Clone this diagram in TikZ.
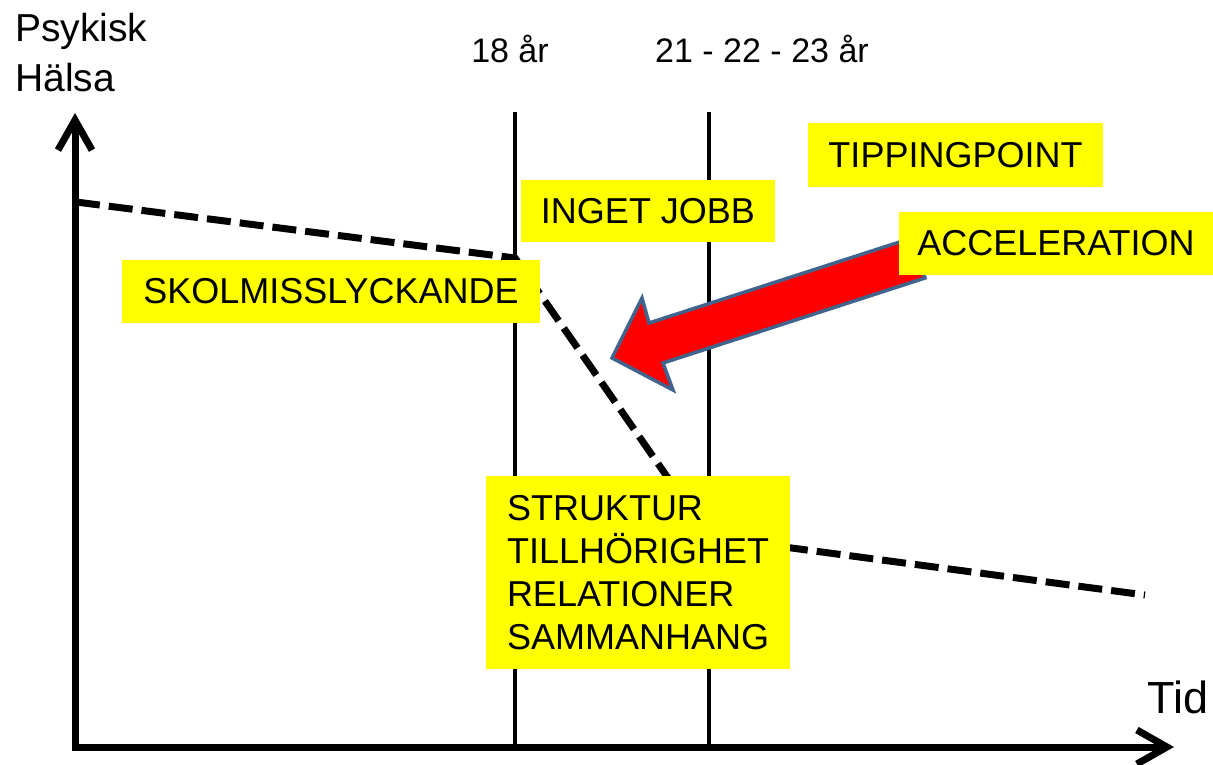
\documentclass[tikz,border=0pt]{standalone}
\usepackage{fontspec}
\setmainfont{Liberation Sans}
\usetikzlibrary{arrows.meta}
\definecolor{boxyellow}{RGB}{255,255,0}
\definecolor{arrowred}{RGB}{255,0,0}
\definecolor{arrowedge}{RGB}{65,100,143}

\begin{document}
\begin{tikzpicture}[x=1pt,y=-1pt,
  yellow box/.style={fill=boxyellow,inner sep=0pt,font=\fontsize{36}{43}\selectfont},
  age label/.style={anchor=base,inner sep=0pt,font=\fontsize{34}{40}\selectfont},
  axis line/.style={line width=7pt,line join=miter,
    {Straight Barb[length=30pt,width=34pt]}-{Straight Barb[length=30pt,width=34pt]}},
  year line/.style={line width=4.5pt},
  health line/.style={line width=7pt,dash pattern=on 24pt off 9pt}]
  \useasboundingbox (0,0) rectangle (1213,764);

  \coordinate (ytip) at (75,113);
  \coordinate (origin) at (75,747);
  \coordinate (xtip) at (1174,747);
  \coordinate (top18) at (515,112);
  \coordinate (bot18) at (515,747);
  \coordinate (top21) at (709,112);
  \coordinate (bot21) at (709,747);
  \coordinate (h0) at (76,202);
  \coordinate (h1) at (515,258);
  \coordinate (h2) at (709,537);
  \coordinate (h3) at (1145,595);

  \node[anchor=north west,inner sep=0pt,align=left,font=\fontsize{39}{50}\selectfont] (ylabel) at (15,13) {Psykisk\\Hälsa};
  \node[age label] (age18) at (510,62) {18 år};
  \node[age label] (age21) at (762,62) {21 - 22 - 23 år};
  \node[anchor=base west,inner sep=0pt,font=\fontsize{45}{54}\selectfont] (xlabel) at (1147,713) {Tid};

  \draw[year line] (top18) -- (bot18);
  \draw[year line] (top21) -- (bot21);
  \draw[health line] (h0) -- (h1) -- (h2) -- (h3);
  \draw[axis line] (ytip) -- (origin) -- (xtip);

  \draw[arrowedge,fill=arrowred,line width=3.5pt,line join=miter]
    (612,358) -- (642,298) -- (649,323) -- (912,238) -- (925,278) -- (663,363) -- (673,390) -- cycle;

  \node[yellow box,minimum width=418pt,minimum height=63pt] (skol) at (331,291.5) {SKOLMISSLYCKANDE};
  \node[yellow box,minimum width=254pt,minimum height=62pt] (jobb) at (648,211) {INGET JOBB};
  \node[yellow box,minimum width=295pt,minimum height=64pt] (tipping) at (955.5,155) {TIPPINGPOINT};
  \node[yellow box,minimum width=314pt,minimum height=63pt] (accel) at (1056,243.5) {ACCELERATION};
  \node[yellow box,minimum width=304pt,minimum height=193pt,text width=262pt,align=left] (factors) at (638,572.5) {STRUKTUR\\TILLHÖRIGHET\\RELATIONER\\SAMMANHANG};
\end{tikzpicture}
\end{document}
